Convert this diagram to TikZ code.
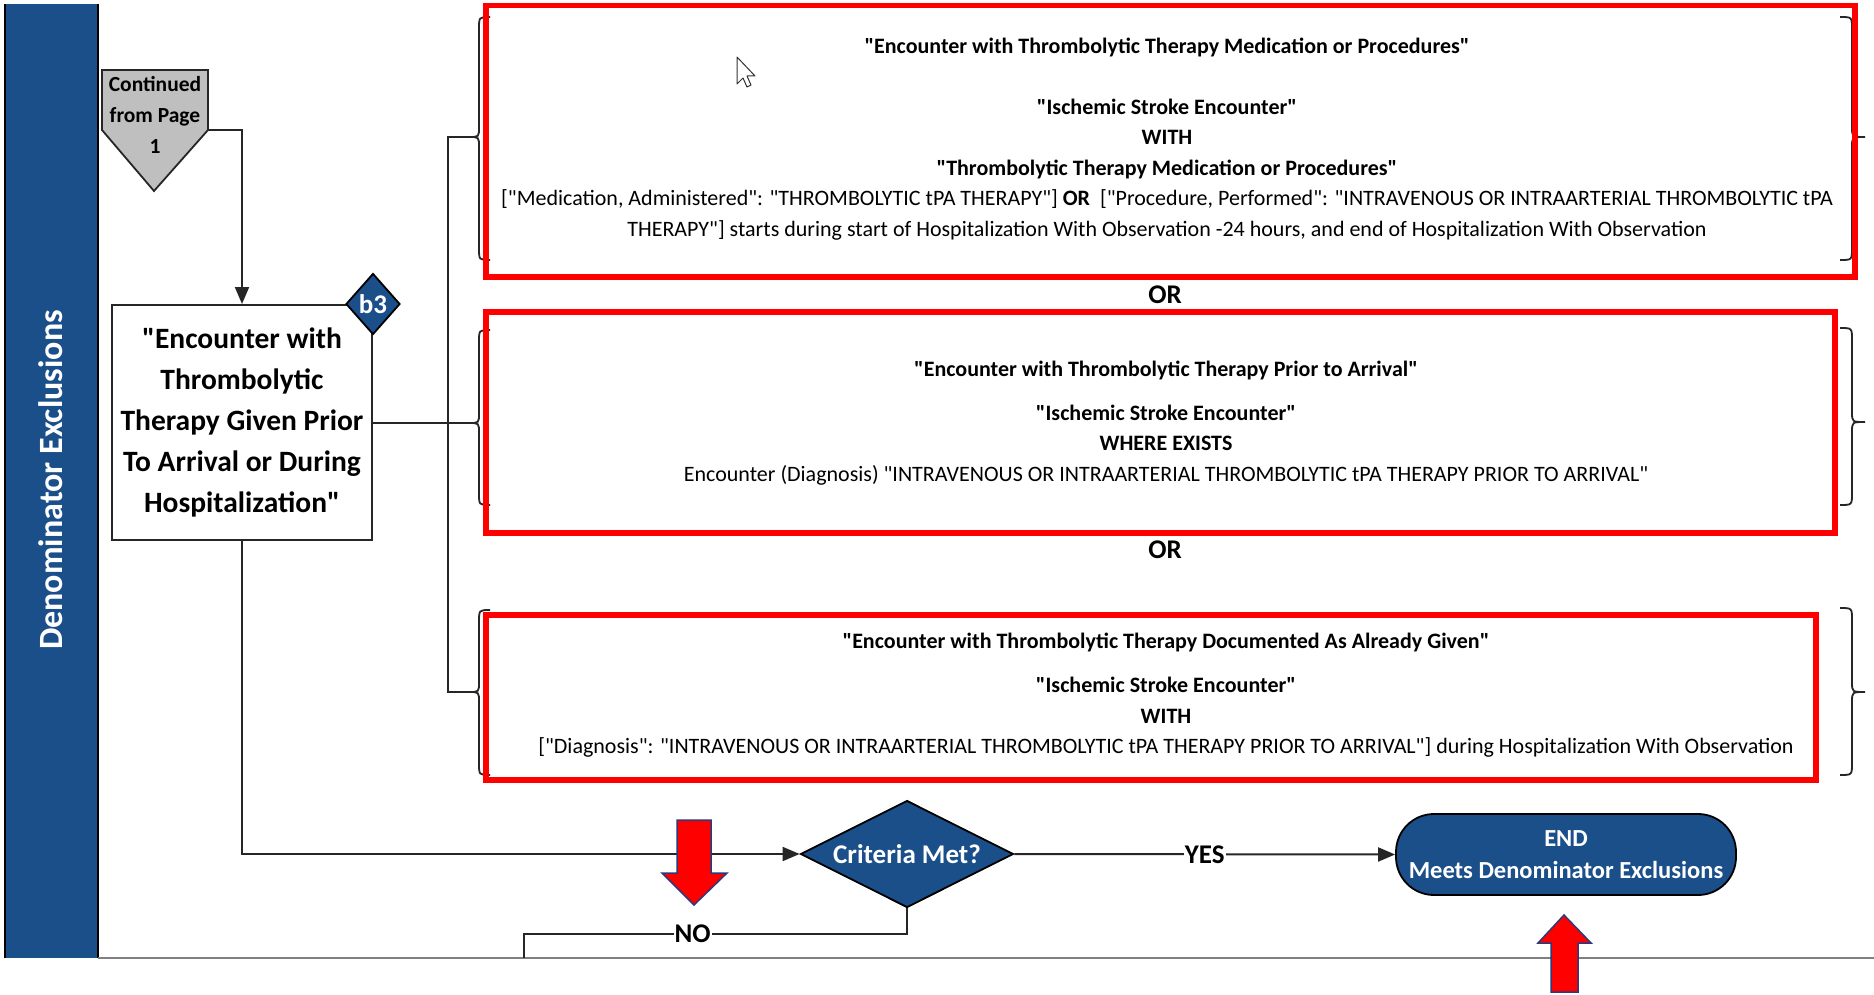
\documentclass[tikz,border=0pt]{standalone}
\usepackage{fontspec}
\setmainfont{Carlito}[Ligatures=TeXOff]
\usetikzlibrary{arrows.meta,shapes.geometric,calc}
\definecolor{bandblue}{HTML}{1B4F8A}
\definecolor{alertred}{HTML}{FF0000}
\definecolor{arrowedge}{HTML}{2E3A78}

% curly braces around the criteria boxes: top y, tip y, bottom y
\newcommand{\LeftBrace}[3]{%
  \draw[bracepen] (490,#1) .. controls (479,#1) .. (479,#1+12) -- (479,#2-10)
    .. controls (479,#2) .. (469,#2) .. controls (479,#2) .. (479,#2+10)
    -- (479,#3-12) .. controls (479,#3) .. (490,#3);}
\newcommand{\RightBrace}[3]{%
  \draw[bracepen] (1840,#1) .. controls (1852,#1) .. (1852,#1+12) -- (1852,#2-10)
    .. controls (1852,#2) .. (1865,#2) .. controls (1852,#2) .. (1852,#2+10)
    -- (1852,#3-12) .. controls (1852,#3) .. (1840,#3);}

\begin{document}
\begin{tikzpicture}[x=1pt,y=-1pt,
  conn/.style={line width=2pt, draw=black!85},
  flow/.style={conn, -{Triangle[length=17pt,width=14pt]}},
  bracepen/.style={line width=1.8pt, draw=black!85},
  redbox/.style={draw=alertred, line width=5.5pt, rectangle, inner sep=0pt},
  critext/.style={align=center, font=\fontsize{22}{30.5}\selectfont, inner sep=0pt},
  orlabel/.style={font=\fontsize{27}{30}\selectfont\bfseries, inner sep=0pt},
  edgelabel/.style={font=\fontsize{27}{30}\selectfont\bfseries, fill=white, inner sep=1pt},
  bluefill/.style={fill=bandblue, draw=black, line width=1.8pt, text=white},
  redarrow/.style={fill=alertred, draw=arrowedge, line width=1.5pt, line join=miter}
]
\useasboundingbox (0,0) rectangle (1874,995);
\fill[white] (0,0) rectangle (1874,995);

% swimlane band and page rule
\fill[bandblue] (5,4) rectangle (98,958);
\draw[black, line width=1.5pt] (5,4) -- (5,958);
\draw[black, line width=1.5pt] (98,4) -- (98,958);
\draw[gray, line width=1.5pt] (98,958) -- (1874,958);
\node[rotate=90, text=white, font=\fontsize{34}{38}\selectfont\bfseries] (lane) at (51,480) {Denominator Exclusions};

% off-page connector
\filldraw[fill=black!25, draw=black!85, line width=1.8pt]
  (102,70) -- (208,70) -- (208,130) -- (154,191) -- (102,130) -- cycle;
\node[align=center, font=\fontsize{21.5}{31}\selectfont\bfseries, inner sep=0pt] (cont) at (155,115)
  {Continued\\from Page\\1};
\coordinate (contR) at (208,130);

% main criterion box
\node[draw=black!85, line width=2pt, fill=white, minimum width=260pt, minimum height=235pt,
      align=center, font=\fontsize{29.5}{41}\selectfont\bfseries, inner sep=0pt] (enc) at (242,422.5)
  {"Encounter with\\Thrombolytic\\Therapy Given Prior\\To Arrival or During\\Hospitalization"};
\node[diamond, bluefill, minimum width=54pt, minimum height=61pt, inner sep=0pt,
      font=\fontsize{27}{30}\selectfont\bfseries] (b3) at (enc.north east) {b3};

\draw[flow] (contR) -| (enc.north);

% braces and the bus that joins them
\coordinate (b1tip) at (469,137);
\coordinate (b2tip) at (469,423);
\coordinate (b3tip) at (469,692);
\coordinate (bus) at (448,0);
\LeftBrace{17}{137}{260}
\LeftBrace{330}{423}{505}
\LeftBrace{610}{692}{775}
\RightBrace{17}{137}{260}
\RightBrace{328}{422}{505}
\RightBrace{608}{692}{775}
\draw[conn] (b1tip) -- (b1tip -| bus) -- (b3tip -| bus) -- (b3tip);
\draw[conn] (enc.east) -- (b2tip |- enc.east);

% criteria boxes
\node[redbox, minimum width=1369pt, minimum height=271.5pt] (m1) at (1170.5,141.2) {};
\node[redbox, minimum width=1349pt, minimum height=221pt] (m2) at (1160.5,422.5) {};
\node[redbox, minimum width=1330pt, minimum height=165pt] (m3) at (1151,697.5) {};

\node[critext] (m1text) at (1167,139) {%
  \textbf{"Encounter with Thrombolytic Therapy Medication or Procedures"}\\[30.5pt]
  \textbf{"Ischemic Stroke Encounter"}\\
  \textbf{WITH}\\
  \textbf{"Thrombolytic Therapy Medication or Procedures"}\\
  {[}"Medication, Administered": "THROMBOLYTIC tPA THERAPY"] \textbf{OR}\ \ {[}"Procedure, Performed": "INTRAVENOUS OR INTRAARTERIAL THROMBOLYTIC tPA\\
  THERAPY"] starts during start of Hospitalization With Observation -24 hours, and end of Hospitalization With Observation};

\node[critext] (m2text) at (1166,423) {%
  \textbf{"Encounter with Thrombolytic Therapy Prior to Arrival"}\\[13pt]
  \textbf{"Ischemic Stroke Encounter"}\\
  \textbf{WHERE EXISTS}\\
  Encounter (Diagnosis) "INTRAVENOUS OR INTRAARTERIAL THROMBOLYTIC tPA THERAPY PRIOR TO ARRIVAL"};

\node[critext] (m3text) at (1166,695) {%
  \textbf{"Encounter with Thrombolytic Therapy Documented As Already Given"}\\[14pt]
  \textbf{"Ischemic Stroke Encounter"}\\
  \textbf{WITH}\\
  {[}"Diagnosis": "INTRAVENOUS OR INTRAARTERIAL THROMBOLYTIC tPA THERAPY PRIOR TO ARRIVAL"] during Hospitalization With Observation};

\node[orlabel] (or1) at (1165,295) {OR};
\node[orlabel] (or2) at (1165,550) {OR};

% pointer
\filldraw[fill=white, draw=black!80, line width=1pt, line join=round]
  (737,57) -- (737,84) -- (743,78) -- (747,87) -- (751,85) -- (747,76) -- (755,76) -- cycle;

% decision and end
\node[diamond, aspect=2, bluefill, minimum width=213pt, minimum height=107pt, inner sep=0pt,
      font=\fontsize{27}{30}\selectfont\bfseries] (crit) at (907,854) {Criteria Met?};
\node[rectangle, rounded corners=38pt, bluefill, minimum width=340pt, minimum height=81pt,
      align=center, font=\fontsize{24.5}{32}\selectfont\bfseries, inner sep=0pt] (term) at (1566,854.5)
  {END\\Meets Denominator Exclusions};

\coordinate (noTurn) at (524,934);
\coordinate (noEnd) at (524,958);
\draw[flow] (enc.south) |- (crit.west);
\draw[flow] (crit.east) -- node[edgelabel, pos=0.5] {YES} (term.west);
\draw[conn] (crit.south) |- node[edgelabel, pos=0.78] {NO} (noTurn) -- (noEnd);

% highlight arrows
\filldraw[redarrow] (677,820) -- (711,820) -- (711,873) -- (727,873) -- (694,905)
  -- (662,873) -- (677,873) -- cycle;
\filldraw[redarrow] (1551,992) -- (1578,992) -- (1578,943) -- (1591,943) -- (1564,915)
  -- (1538,943) -- (1551,943) -- cycle;
\end{tikzpicture}
\end{document}
